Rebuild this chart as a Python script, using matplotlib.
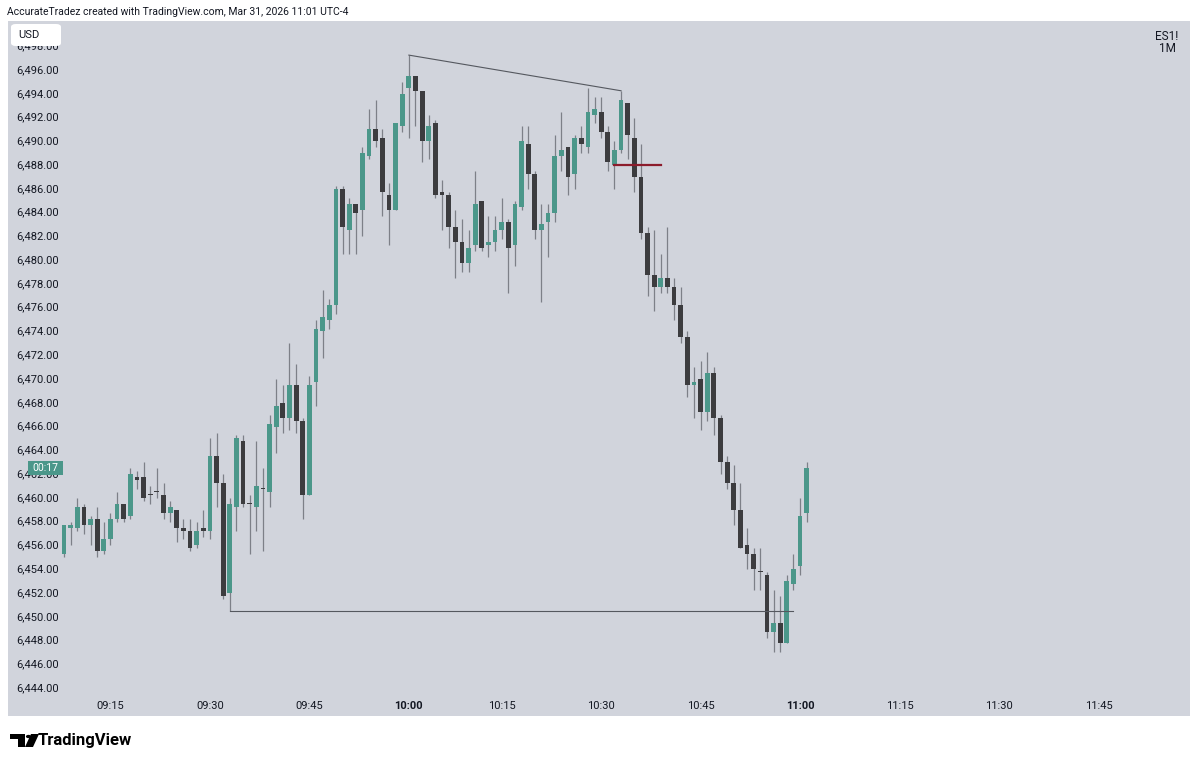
import matplotlib
matplotlib.use("Agg")
import matplotlib.pyplot as plt
from matplotlib.patches import FancyBboxPatch, Rectangle, Polygon, Circle

plt.rcParams['font.family'] = ['Roboto', 'DejaVu Sans']

# ES1! 1 minute bars
opens = [6455.25, 6457.5, 6457.5, 6459.25, 6457.75, 6458.25, 6455.5, 6456.5, 6458.25, 6459.5,
         6458.5, 6461.75, 6461.75, 6460.25, 6460.5, 6460.25, 6458.75, 6459.0, 6457.5, 6457.25,
         6456.0, 6457.5, 6457.25, 6463.5, 6461.25, 6452.0, 6459.25, 6464.75, 6459.5, 6459.25,
         6460.75, 6460.5, 6466.0, 6468.0, 6466.75, 6469.5, 6466.5, 6460.25, 6469.75, 6474.0,
         6475.0, 6476.25, 6486.0, 6482.5, 6484.75, 6484.25, 6488.75, 6491.0, 6490.25, 6485.5,
         6484.25, 6491.25, 6494.5, 6495.5, 6494.25, 6490.0, 6491.5, 6485.75, 6485.5, 6482.75,
         6481.5, 6479.75, 6481.25, 6485.0, 6481.25, 6481.5, 6482.5, 6483.25, 6481.25, 6484.5,
         6489.75, 6487.25, 6482.5, 6483.25, 6484.0, 6488.75, 6489.5, 6487.25, 6490.25, 6489.5,
         6492.25, 6492.5, 6490.75, 6488.0, 6489.25, 6493.25, 6490.25, 6487.0, 6482.25, 6478.75,
         6477.75, 6478.5, 6477.75, 6476.25, 6473.5, 6469.5, 6470.0, 6467.25, 6470.5, 6466.75,
         6463.0, 6461.25, 6459.0, 6456.0, 6455.25, 6453.75, 6453.5, 6448.75, 6449.5, 6447.75,
         6452.75, 6454.25, 6458.75]
highs = [6457.75, 6458.0, 6460.0, 6459.5, 6458.5, 6459.25, 6458.0, 6458.75, 6460.5, 6459.5,
         6462.5, 6462.25, 6463.0, 6461.0, 6462.5, 6461.25, 6459.75, 6459.0, 6458.25, 6458.25,
         6458.0, 6459.0, 6465.0, 6465.5, 6462.0, 6460.0, 6465.25, 6465.25, 6460.25, 6464.75,
         6462.5, 6467.0, 6470.0, 6469.5, 6473.0, 6471.25, 6466.75, 6470.25, 6475.0, 6477.5,
         6476.75, 6486.25, 6486.25, 6485.25, 6484.75, 6489.5, 6492.75, 6493.5, 6491.0, 6486.5,
         6491.5, 6495.0, 6497.25, 6495.5, 6494.25, 6492.25, 6491.75, 6486.75, 6485.75, 6484.25,
         6483.5, 6482.5, 6487.5, 6485.0, 6483.75, 6483.75, 6485.25, 6483.5, 6485.0, 6491.25,
         6491.25, 6487.5, 6484.75, 6484.75, 6490.5, 6492.5, 6489.5, 6490.5, 6491.25, 6494.5,
         6493.75, 6493.75, 6491.25, 6490.0, 6494.25, 6493.25, 6492.0, 6489.75, 6482.75, 6482.5,
         6480.5, 6482.75, 6478.5, 6477.75, 6474.0, 6471.0, 6471.5, 6472.25, 6471.0, 6467.0,
         6463.5, 6462.75, 6461.25, 6457.5, 6455.75, 6455.75, 6453.75, 6452.25, 6451.75, 6453.5,
         6455.25, 6460.0, 6463.0]
lows = [6455.0, 6456.0, 6457.25, 6457.0, 6456.0, 6455.0, 6455.25, 6456.0, 6458.0, 6458.0,
        6458.25, 6460.75, 6459.75, 6459.5, 6460.0, 6458.25, 6458.0, 6456.25, 6456.5, 6455.5,
        6455.75, 6456.75, 6456.5, 6459.25, 6451.5, 6450.5, 6457.25, 6459.25, 6455.25, 6457.25,
        6455.5, 6459.25, 6463.75, 6465.5, 6465.75, 6465.5, 6458.25, 6460.25, 6467.75, 6471.75,
        6474.25, 6475.5, 6480.5, 6480.5, 6480.5, 6482.0, 6488.5, 6489.5, 6483.75, 6481.25,
        6484.25, 6490.75, 6490.25, 6491.25, 6488.25, 6488.5, 6485.25, 6482.5, 6481.0, 6478.5,
        6479.0, 6479.0, 6480.75, 6480.75, 6480.25, 6480.75, 6481.75, 6477.25, 6479.5, 6484.25,
        6486.0, 6481.75, 6476.5, 6480.25, 6483.25, 6487.5, 6485.5, 6486.0, 6489.0, 6489.0,
        6491.5, 6490.25, 6487.5, 6486.0, 6489.0, 6488.5, 6485.75, 6481.75, 6477.0, 6475.75,
        6477.25, 6477.25, 6475.0, 6473.0, 6468.5, 6466.75, 6465.75, 6466.5, 6465.25, 6462.0,
        6460.75, 6457.75, 6455.75, 6454.0, 6452.25, 6452.25, 6448.25, 6447.0, 6447.0, 6447.75,
        6452.25, 6453.5, 6458.0]
closes = [6457.75, 6457.75, 6459.25, 6457.75, 6458.25, 6455.5, 6456.5, 6458.25, 6459.5, 6458.25,
          6462.0, 6461.5, 6460.0, 6460.25, 6460.5, 6458.75, 6459.25, 6457.5, 6457.25, 6455.75,
          6457.25, 6457.25, 6463.5, 6461.25, 6451.75, 6459.5, 6465.0, 6459.5, 6459.5, 6461.0,
          6460.75, 6466.25, 6467.75, 6466.75, 6469.5, 6466.5, 6460.25, 6469.5, 6474.25, 6475.25,
          6476.25, 6486.0, 6482.75, 6484.75, 6484.0, 6489.0, 6491.0, 6490.0, 6485.75, 6484.25,
          6491.5, 6494.0, 6495.5, 6494.25, 6490.0, 6491.25, 6485.5, 6485.5, 6482.75, 6481.5,
          6479.75, 6481.0, 6484.75, 6481.0, 6481.5, 6482.5, 6483.25, 6481.0, 6484.75, 6490.0,
          6487.25, 6482.5, 6483.0, 6484.0, 6488.75, 6489.25, 6487.0, 6490.25, 6489.75, 6492.5,
          6492.75, 6490.75, 6488.25, 6489.25, 6493.5, 6490.5, 6487.0, 6482.25, 6478.75, 6477.75,
          6478.5, 6477.75, 6476.25, 6473.5, 6469.5, 6469.75, 6467.25, 6470.5, 6466.75, 6463.0,
          6461.25, 6459.0, 6455.75, 6455.25, 6454.0, 6453.75, 6448.75, 6449.5, 6447.75, 6453.0,
          6454.0, 6458.5, 6462.5]

# bar times in minutes (09:08 .. 11:01, one minute without a bar)
bar_minutes = [m for m in range(9 * 60 + 8, 11 * 60 + 2) if m != 10 * 60 + 5]
time_labels = ["09:15", "09:30", "09:45", "10:00", "10:15", "10:30",
               "10:45", "11:00", "11:15", "11:30", "11:45"]
bold_labels = ["10:00", "11:00"]
price_ticks = list(range(6444, 6500, 2))

# drawings
swing_bars = (52, 84)          # line between the two highs
low_level = 6450.5
low_bars = (25, 110)
red_level = 6488.0
red_bars = (83, 90)

BG = '#d1d4dc'
GREEN = '#4b978a'
DARK = '#3c3c3f'
WICK = '#7d8088'
TXT = '#131722'

W, H = 1200, 764
fig = plt.figure(figsize=(W / 100, H / 100), dpi=100)
fig.patch.set_facecolor('white')


def fx(x):
    return x / W


def fy(y):
    return 1 - y / H


ax = fig.add_axes([fx(8), fy(716), (1190 - 8) / W, (716 - 21) / H])
ax.set_facecolor(BG)
for s in ax.spines.values():
    s.set_visible(False)
ax.set_xticks([])
ax.set_yticks([])
ax.set_xlim(-8.45, 169.8)
ax.set_ylim(6441.65, 6500.12)

idx = list(range(len(opens)))
cols = [GREEN if c > o else DARK for o, c in zip(opens, closes)]
bottoms = [min(o, c) for o, c in zip(opens, closes)]
heights = [max(abs(c - o), 0.1) for o, c in zip(opens, closes)]

ax.vlines(idx, lows, highs, color=WICK, lw=0.9, zorder=2)
ax.bar(idx, heights, bottom=bottoms, width=0.72, color=cols, zorder=3)

# drawings
ax.plot(swing_bars, [highs[swing_bars[0]], highs[swing_bars[1]]], color='#55585f', lw=0.8, zorder=4)
ax.plot(low_bars, [low_level, low_level], color='#55585f', lw=0.8, zorder=4)
ax.plot(red_bars, [red_level, red_level], color='#8c1c2c', lw=1.6, zorder=4)

# price scale labels (left, inside the pane); 6,462 sits under the countdown box
for v in price_ticks:
    ax.text(0.0068, v, f"{v:,.2f}", transform=ax.get_yaxis_transform(),
            ha='left', va='center', fontsize=8, color=TXT, zorder=5)

# time labels
for lab in time_labels:
    hh, mm = lab.split(':')
    m = int(hh) * 60 + int(mm)
    if m in bar_minutes:
        pos = bar_minutes.index(m)
    else:
        pos = len(bar_minutes) - 1 + (m - bar_minutes[-1])
    ax.text(pos, 0.0144, lab, transform=ax.get_xaxis_transform(), ha='center', va='center',
            fontsize=8, color=TXT, fontweight='bold' if lab in bold_labels else 'normal')

# countdown box
fig.patches.append(Rectangle((fx(28), fy(475)), (63 - 28) / W, 14 / H, transform=fig.transFigure,
                             facecolor=GREEN, edgecolor='none', zorder=10))
fig.text(fx(45.5), fy(468), "00:17", color='white', fontsize=7.5, ha='center', va='center', zorder=11)

# USD button (covers the top half of the 6,498 label)
fig.patches.append(FancyBboxPatch((fx(11), fy(46)), 50 / W, 22 / H, transform=fig.transFigure,
                                  boxstyle="round,pad=0,rounding_size=0.004",
                                  facecolor='white', edgecolor='none', zorder=10))
fig.text(fx(18), fy(34.5), "USD", fontsize=8, color=TXT, ha='left', va='center', zorder=11)

# symbol / interval
fig.text(fx(1178), fy(37), "ES1!", fontsize=8.5, color=TXT, ha='right', va='center')
fig.text(fx(1176), fy(49), "1M", fontsize=8.5, color=TXT, ha='right', va='center')

# header
fig.text(fx(7), fy(12), "AccurateTradez created with TradingView.com, Mar 31, 2026 11:01 UTC-4",
         fontsize=7.5, color=TXT, ha='left', va='center')

# footer logo
logo = [Rectangle((fx(10), fy(739)), 15 / W, 5 / H),
        Rectangle((fx(18), fy(747)), 7 / W, 13 / H),
        Polygon([(fx(31), fy(734)), (fx(39), fy(734)), (fx(33), fy(747)), (fx(25), fy(747))]),
        ]
for p in logo:
    p.set_transform(fig.transFigure)
    p.set_facecolor('black')
    p.set_edgecolor('none')
    fig.patches.append(p)
fig.patches.append(Circle((fx(28.5), fy(736.5)), 2.6 / W, transform=fig.transFigure,
                          facecolor='black', edgecolor='none'))
fig.text(fx(38), fy(740.5), "TradingView", fontsize=12, fontweight='bold', color='black',
         ha='left', va='center')

fig.savefig("out.png", dpi=100, facecolor='white')
